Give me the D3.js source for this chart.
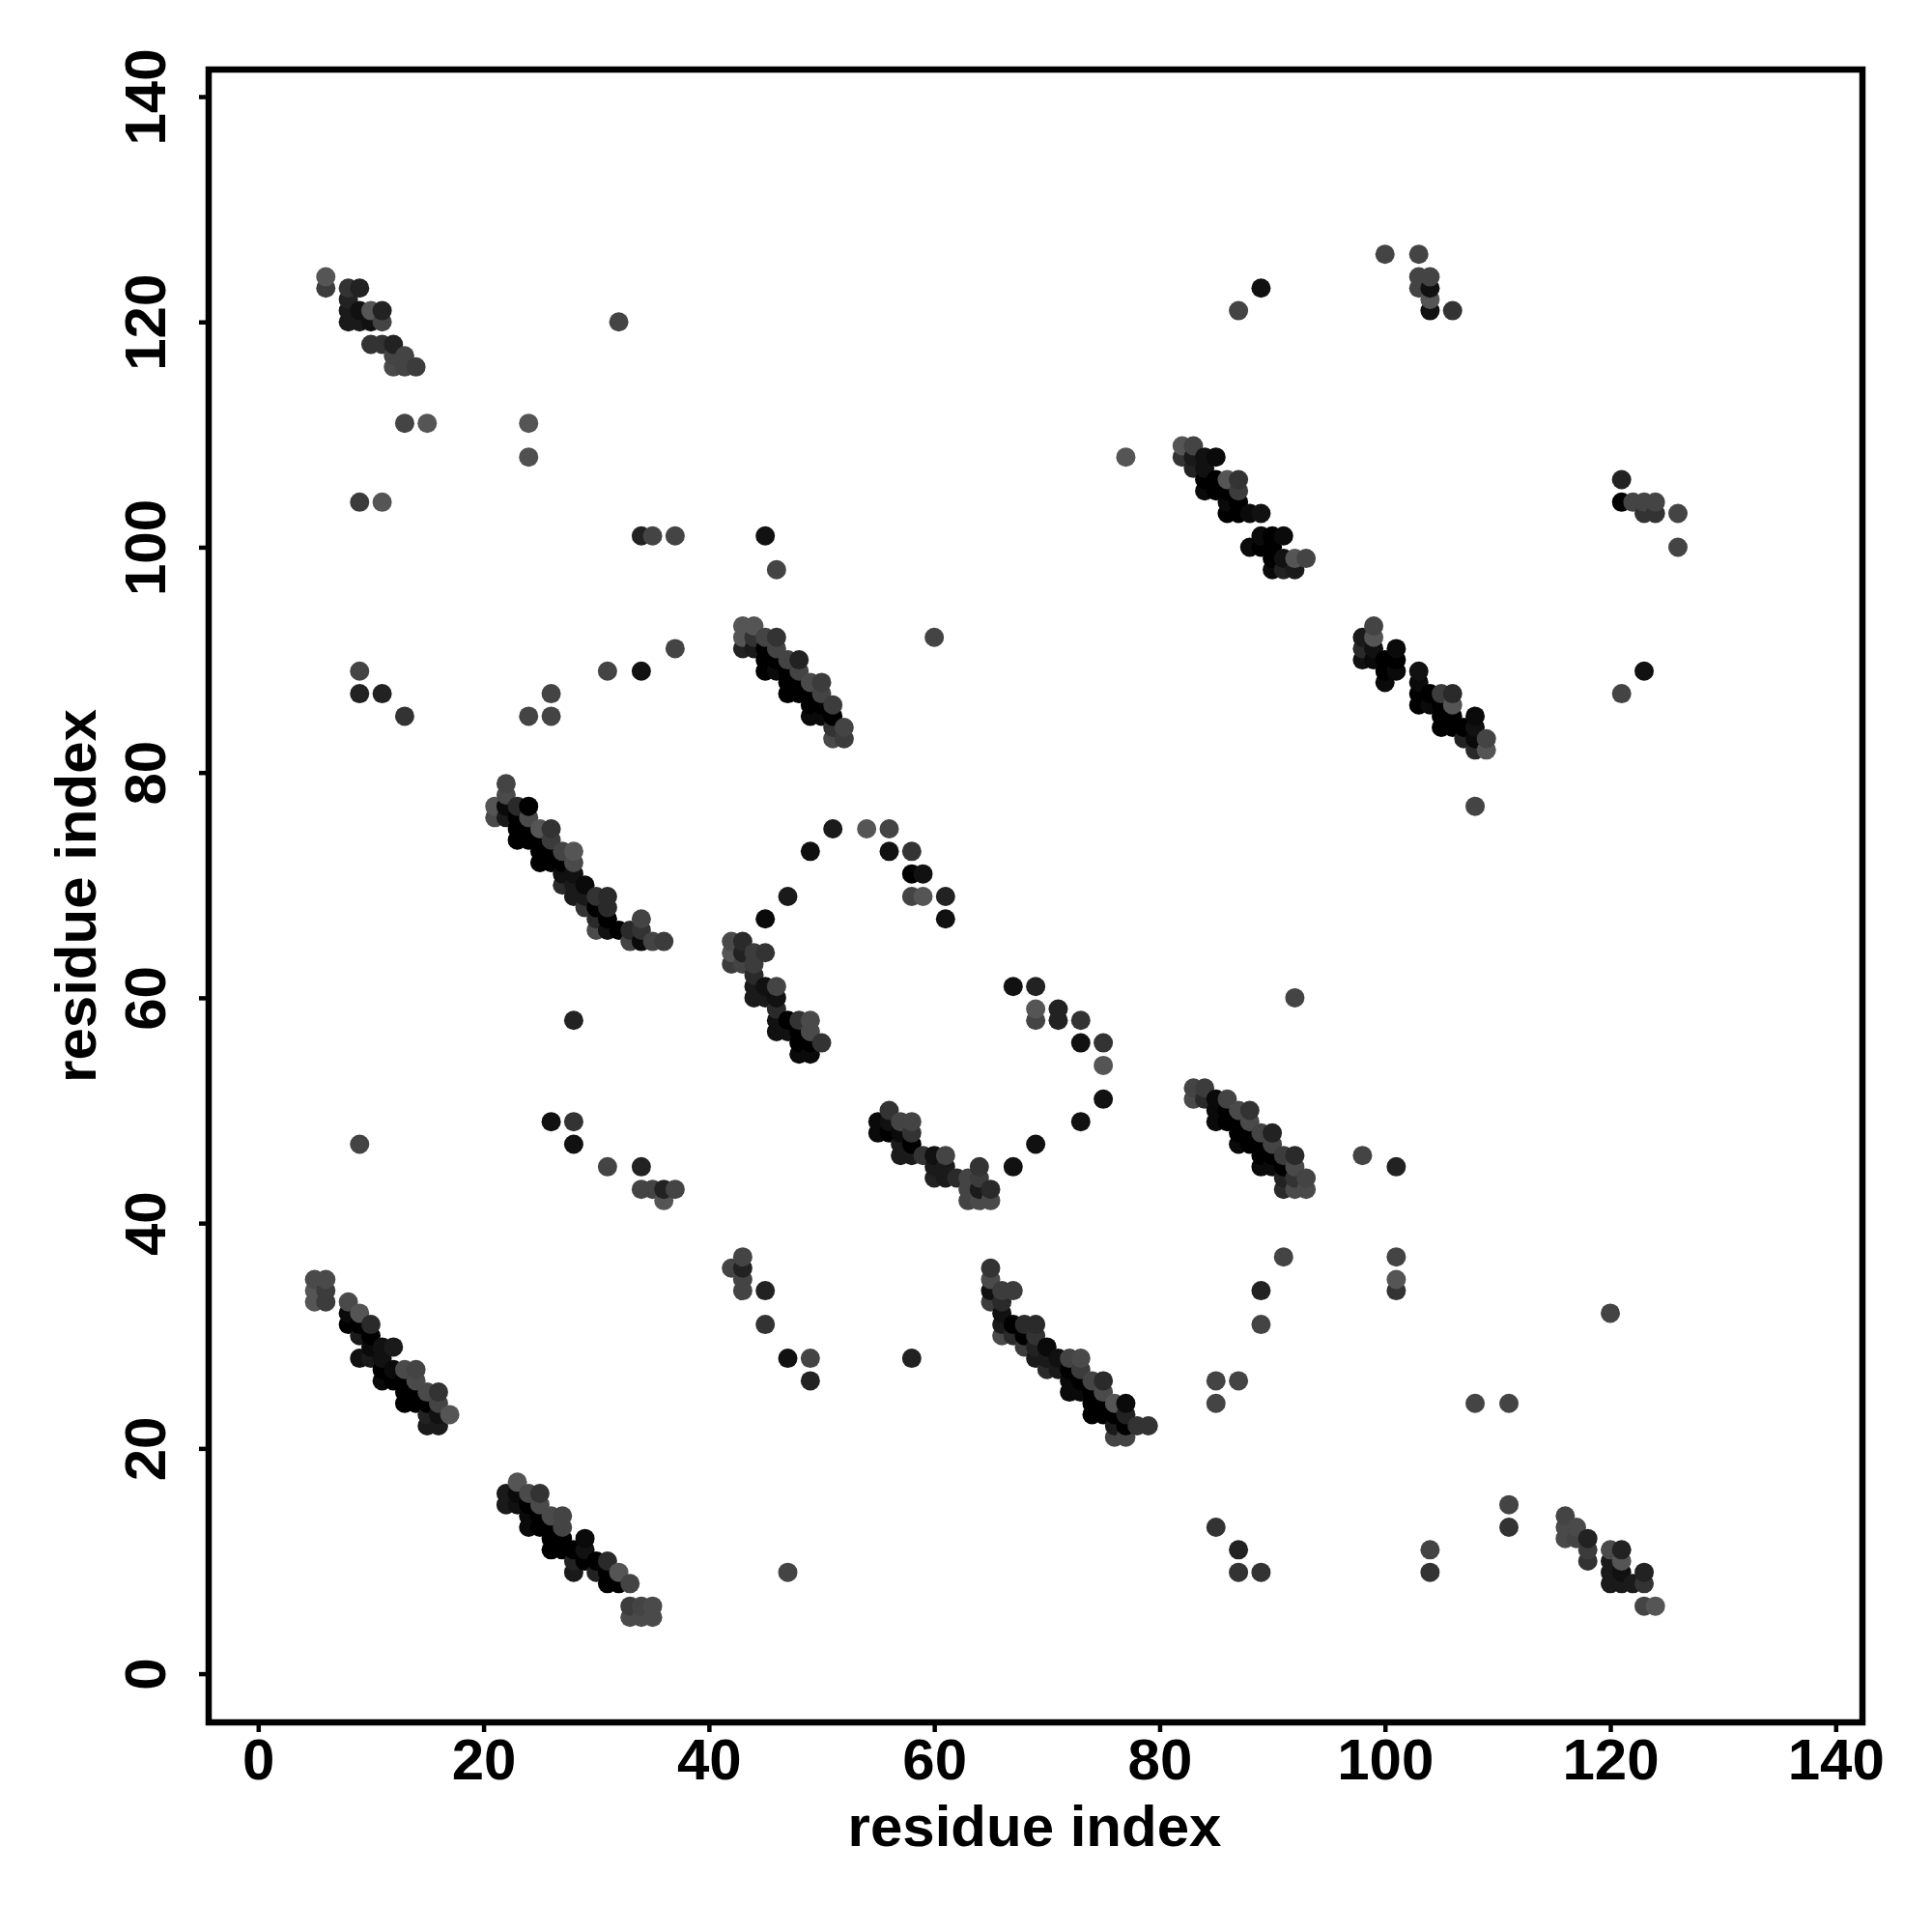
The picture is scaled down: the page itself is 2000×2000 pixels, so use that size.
<!DOCTYPE html>
<html><head><meta charset="utf-8">
<script src="https://cdn.jsdelivr.net/npm/d3@7"></script>
<style>html,body{margin:0;background:#fff}svg{display:block}</style></head>
<body><svg id="c" width="2000" height="2000"></svg>
<script>
const tickValues=[0,20,40,60,80,100,120,140];
const xLabel="residue index", yLabel="residue index";
// rows: residue i, residue j, grey level (0 = strongest contact, 85 = weakest)
const clusterA=[[6,124,85],[6,123,60],[8,123,51],[9,123,34],[8,122,34],[8,121,26],[9,121,17],[10,121,85],[11,121,34],[8,120,26],[9,120,26],[10,120,17],[11,120,68],[10,118,51],[11,118,51],[12,118,34],[12,117,68],[13,117,68],[12,116,74],[13,116,68],[14,116,60],[13,111,68],[15,111,85],[24,111,85],[24,108,80],[9,104,60],[11,104,85],[32,120,68]];
const clusterB=[[87,121,68],[89,123,17],[100,126,68],[103,126,68],[103,124,68],[104,124,68],[103,123,68],[104,123,17],[104,122,85],[104,121,17],[106,121,51]];
const clusterC=[[77,108,85],[82,109,85],[83,109,68],[82,108,51],[83,108,26],[84,108,17],[85,108,10],[83,107,34],[84,107,17],[84,106,0],[85,106,0],[86,106,85],[87,106,51],[84,105,10],[85,105,0],[86,105,0],[87,105,60],[86,104,10],[87,104,0],[86,103,0],[87,103,0],[88,103,10],[89,103,17],[89,101,10],[90,101,0],[91,101,10],[88,100,10],[89,100,0],[90,100,0],[90,99,0],[91,99,17],[92,99,85],[93,99,68],[90,98,10],[91,98,34],[92,98,26]];
const clusterD=[[99,93,68],[99,92,85],[98,92,26],[98,91,42],[99,91,17],[98,90,17],[99,90,10],[100,90,0],[101,91,10],[101,90,0],[100,89,0],[101,89,10],[100,88,10],[103,89,17],[103,88,10],[103,87,0],[104,87,0],[105,87,60],[106,87,42],[103,86,0],[104,86,10],[105,86,0],[106,86,85],[105,85,0],[106,85,0],[108,85,10],[105,84,0],[106,84,0],[107,84,0],[108,84,17],[107,83,34],[108,83,10],[109,83,68],[108,82,42],[109,82,85]];
const clusterE=[[121,106,34],[121,104,0],[122,104,68],[123,104,68],[124,104,68],[123,103,51],[124,103,51],[126,103,68],[126,100,68],[121,87,68],[123,89,17],[108,77,68],[34,101,34],[35,101,68],[37,101,68],[45,101,17],[46,98,68],[9,89,68],[9,87,34],[11,87,34],[13,85,51],[24,85,68],[26,85,68],[26,87,68],[31,89,68],[34,89,17],[37,91,68],[60,92,68]];
const clusterF=[[43,93,85],[44,93,85],[43,92,85],[44,92,51],[45,92,68],[46,92,51],[43,91,34],[44,91,26],[45,91,0],[46,91,68],[45,90,0],[46,90,0],[47,90,68],[48,90,34],[45,89,0],[46,89,10],[47,89,0],[48,89,68],[47,88,0],[48,88,0],[49,88,74],[50,88,60],[47,87,0],[48,87,0],[49,87,0],[50,87,68],[49,86,0],[50,86,0],[51,86,60],[49,85,10],[50,85,10],[51,85,0],[51,84,51],[52,84,68],[51,83,74],[52,83,60]];
const clusterG=[[22,79,68],[22,78,74],[21,77,85],[22,77,10],[23,77,42],[24,77,0],[21,76,74],[22,76,26],[23,76,0],[24,76,74],[23,75,0],[24,75,0],[25,75,85],[26,75,51],[23,74,0],[24,74,0],[25,74,0],[26,74,60],[25,73,0],[26,73,0],[27,73,68],[28,73,85],[25,72,0],[26,72,0],[27,72,0],[28,72,74],[27,71,17],[28,71,17],[27,70,42],[28,70,26],[29,70,10],[28,69,26],[29,69,26],[30,69,51],[31,69,42],[29,68,51],[30,68,0],[31,68,42],[30,67,42],[31,67,0],[30,66,74],[31,66,17],[32,66,0],[33,66,42],[34,66,51],[34,67,68],[33,65,68],[34,65,10],[35,65,68],[36,65,60],[28,58,34]];
const arcTop=[[45,67,10],[47,69,26],[49,73,15],[51,75,26],[54,75,85],[56,75,68],[56,73,17],[58,73,51],[58,71,0],[59,71,17],[58,69,68],[59,69,85],[61,69,34],[61,67,17]];
const clusterH=[[42,65,74],[43,65,42],[42,64,85],[43,64,34],[44,64,60],[45,64,51],[42,63,60],[43,63,68],[44,63,60],[44,62,42],[44,61,26],[45,61,17],[46,61,68],[44,60,26],[45,60,26],[46,60,17],[46,59,42],[46,58,17],[47,58,0],[48,58,51],[49,58,74],[46,57,17],[47,57,17],[48,57,0],[49,57,74],[48,56,0],[49,56,0],[50,56,51],[48,55,10],[49,55,10]];
const arcRight=[[67,61,17],[69,61,34],[69,59,85],[71,59,34],[69,58,68],[71,58,34],[73,58,51],[73,56,17],[75,56,51],[75,54,85],[75,51,17],[73,49,17],[69,47,17],[67,45,17],[92,60,68]];
const clusterI=[[26,49,17],[28,49,51],[28,47,17],[9,47,68],[31,45,68],[34,45,34],[34,43,68],[35,43,68],[36,43,34],[37,43,68],[36,42,85]];
const clusterJ=[[56,50,51],[55,49,10],[56,49,17],[57,49,68],[58,49,68],[55,48,10],[56,48,0],[57,48,10],[58,48,51],[57,47,26],[58,47,0],[57,46,26],[58,46,26],[59,46,51],[60,46,17],[61,46,68],[60,45,26],[61,45,26],[60,44,34],[61,44,26],[62,44,42],[64,45,51],[63,44,68],[64,44,60],[63,43,68],[64,43,26],[65,43,42],[63,42,68],[64,42,74],[65,42,74]];
const clusterK=[[83,52,68],[84,52,60],[83,51,74],[84,51,42],[85,51,10],[86,51,68],[85,50,10],[86,50,0],[87,50,74],[88,50,51],[85,49,10],[86,49,0],[87,49,0],[88,49,74],[87,48,0],[88,48,0],[89,48,68],[90,48,34],[87,47,10],[88,47,0],[89,47,0],[90,47,68],[89,46,0],[90,46,0],[91,46,60],[92,46,42],[89,45,10],[90,45,10],[91,45,0],[92,45,74],[91,44,34],[92,44,51],[93,44,68],[91,43,42],[92,43,74],[93,43,74]];
const clusterL=[[98,46,68],[101,45,34],[91,37,68],[89,34,34],[89,31,68],[101,37,68],[101,35,85],[101,34,51],[120,32,68]];
const clusterM=[[5,35,74],[6,35,74],[5,34,85],[6,34,60],[5,33,85],[6,33,60],[8,33,74],[8,32,10],[9,32,85],[8,31,0],[9,31,0],[10,31,42],[9,30,26],[10,30,0],[10,29,10],[11,29,17],[12,29,26],[9,28,17],[10,28,26],[11,28,17],[11,27,0],[12,27,10],[13,27,74],[14,27,68],[11,26,10],[12,26,0],[13,26,0],[14,26,74],[13,25,0],[14,25,0],[15,25,74],[16,25,51],[13,24,0],[14,24,0],[15,24,0],[16,24,68],[15,23,34],[16,23,17],[17,23,85],[15,22,26],[16,22,26]];
const clusterN=[[65,36,51],[65,35,74],[65,34,17],[66,34,60],[67,34,60],[65,33,60],[66,33,42],[66,32,17],[66,31,26],[67,31,0],[68,31,42],[69,31,42],[66,30,74],[67,30,42],[68,30,0],[69,30,51],[68,29,60],[69,29,34],[70,29,10],[69,28,26],[70,28,26],[71,28,17],[72,28,68],[73,28,74],[70,27,42],[71,27,26],[72,27,0],[73,27,60],[72,26,10],[73,26,0],[74,26,68],[75,26,42],[72,25,10],[73,25,10],[74,25,0],[75,25,74],[74,24,0],[75,24,0],[76,24,85],[77,24,10],[74,23,0],[75,23,0],[76,23,0],[77,23,34],[76,22,26],[77,22,0],[78,22,51],[79,22,51],[76,21,68],[77,21,68]];
const clusterO=[[42,36,68],[43,37,68],[43,36,34],[43,35,68],[43,34,68],[45,34,34],[45,31,51],[47,28,17],[49,28,68],[49,26,34],[58,28,34],[85,26,68],[87,26,68],[85,24,68],[108,24,68],[111,24,68],[111,15,68],[111,13,51],[85,13,51],[87,11,34],[87,9,51],[89,9,51],[104,11,68],[104,9,51],[47,9,68]];
const clusterP=[[23,17,85],[22,16,26],[23,16,10],[24,16,74],[25,16,51],[22,15,26],[23,15,17],[24,15,0],[25,15,74],[24,14,10],[25,14,0],[26,14,74],[27,14,68],[24,13,10],[25,13,0],[26,13,0],[27,13,68],[26,12,0],[27,12,0],[29,12,10],[26,11,0],[27,11,0],[28,11,0],[29,11,17],[28,10,34],[29,10,0],[30,10,0],[31,10,42],[28,9,26],[30,9,34],[31,9,0],[32,9,85],[31,8,0],[32,8,0],[33,8,68],[33,6,60],[34,6,68],[35,6,74],[33,5,74],[34,5,74],[35,5,74]];
const clusterQ=[[116,14,68],[116,13,74],[117,13,74],[116,12,74],[117,12,68],[118,12,34],[118,11,60],[118,10,51],[120,11,74],[121,11,34],[120,10,26],[121,10,85],[120,9,26],[121,9,17],[123,9,34],[120,8,26],[121,8,26],[122,8,26],[123,8,51],[123,6,68],[124,6,85]];

const contacts=[].concat(clusterA,clusterB,clusterC,clusterD,clusterE,clusterF,clusterG,arcTop,clusterH,arcRight,clusterI,clusterJ,clusterK,clusterL,clusterM,clusterN,clusterO,clusterP,clusterQ)
  .sort((a,b)=>d3.ascending(a[0],b[0])||d3.ascending(a[1],b[1]));

const svg=d3.select("#c");
const frame={l:216,r:1928,t:72,b:1783};
const x=d3.scaleLinear().domain([0,140]).range([267.3,1900.3]);
const y=d3.scaleLinear().domain([0,140]).range([1732.6,100]);
const grey=d3.scaleLinear().domain([0,85]).range(["#000","#555"]);
const font='"Liberation Sans",Arial,sans-serif';

svg.append("g").selectAll("circle").data(contacts).join("circle")
  .attr("cx",d=>x(d[0])).attr("cy",d=>y(d[1])).attr("r",10).attr("fill",d=>grey(d[2]));

svg.append("rect").attr("x",frame.l).attr("y",frame.t)
  .attr("width",frame.r-frame.l).attr("height",frame.b-frame.t)
  .attr("fill","none").attr("stroke","#000").attr("stroke-width",6.5);

const gx=svg.append("g").attr("transform",`translate(0,${frame.b})`)
  .call(d3.axisBottom(x).tickValues(tickValues).tickSize(10).tickPadding(6));
const gy=svg.append("g").attr("transform",`translate(${frame.l},0)`)
  .call(d3.axisLeft(y).tickValues(tickValues).tickSize(10));
for(const g of [gx,gy]){
  g.select(".domain").remove();
  g.selectAll("line").attr("stroke","#000").attr("stroke-width",4.5);
  g.selectAll("text").attr("fill","#000").attr("font-family",font).attr("font-weight","bold").attr("font-size",60);
}
gy.selectAll("text").attr("text-anchor","middle").attr("x",0).attr("y",0).attr("dy",0)
  .attr("transform",`translate(${171-frame.l},0) rotate(-90)`);

svg.append("text").attr("x",(frame.l+frame.r)/2-1).attr("y",1911).attr("text-anchor","middle")
  .attr("font-family",font).attr("font-weight","bold").attr("font-size",60).text(xLabel);
svg.append("text").attr("transform",`translate(99,${(frame.t+frame.b)/2}) rotate(-90)`).attr("text-anchor","middle")
  .attr("font-family",font).attr("font-weight","bold").attr("font-size",60).text(yLabel);
</script></body></html>
